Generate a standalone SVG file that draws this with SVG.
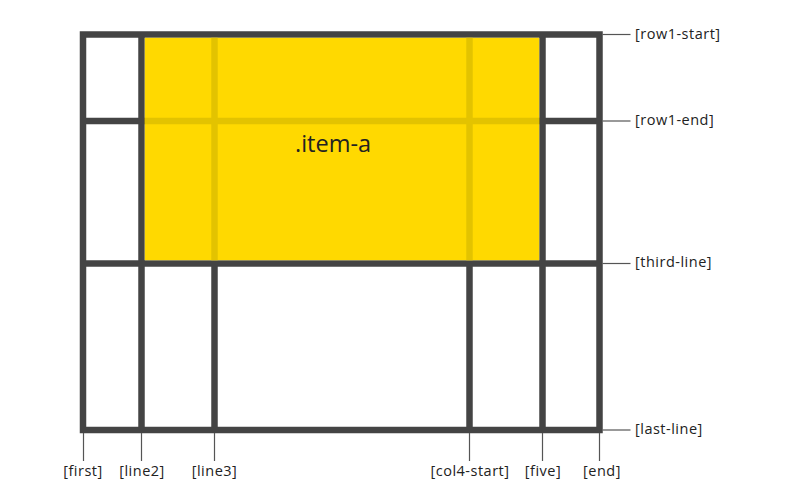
<svg xmlns="http://www.w3.org/2000/svg" width="793" height="498" viewBox="0 0 793 498">
<style>
.g{stroke:#444;stroke-width:6.5;fill:none}
.f{stroke:#E3C300;stroke-width:6.5}
.t{stroke:#555;stroke-width:1.2}
.lbl{font-family:"Open Sans","Noto Sans",sans-serif;font-size:14.5px;letter-spacing:0.5px;fill:#222}
.c{text-anchor:middle}
</style>
<rect width="793" height="498" fill="#fff"/>
<g id="grid">
<line class="g" x1="141.5" y1="34.5" x2="141.5" y2="430"/>
<line class="g" x1="214.5" y1="263.5" x2="214.5" y2="430"/>
<line class="g" x1="469.5" y1="263.5" x2="469.5" y2="430"/>
<line class="g" x1="542.5" y1="34.5" x2="542.5" y2="430"/>
<line class="g" x1="83" y1="121" x2="599.5" y2="121"/>
<line class="g" x1="83" y1="263.5" x2="599.5" y2="263.5"/>
<rect class="g" x="83" y="34.5" width="516.5" height="395.5"/>
</g>
<g id="item-a">
<rect x="144.8" y="37.8" width="394.4" height="222.4" fill="#FFD900"/>
<line class="f" x1="214.5" y1="37.8" x2="214.5" y2="260.2"/>
<line class="f" x1="469.5" y1="37.8" x2="469.5" y2="260.2"/>
<line class="f" x1="144.8" y1="121" x2="539.2" y2="121"/>
<text x="295" y="152" font-family="'Open Sans','Noto Sans',sans-serif" font-size="23.5" fill="#222">.item-a</text>
</g>
<g id="connectors">
<line class="t" x1="602.5" y1="34.5" x2="630.5" y2="34.5"/>
<line class="t" x1="602.5" y1="121" x2="630.5" y2="121"/>
<line class="t" x1="602.5" y1="263.5" x2="630.5" y2="263.5"/>
<line class="t" x1="602.5" y1="430" x2="630.5" y2="430"/>
<line class="t" x1="83.5" y1="433" x2="83.5" y2="461"/>
<line class="t" x1="141.5" y1="433" x2="141.5" y2="461"/>
<line class="t" x1="214.5" y1="433" x2="214.5" y2="461"/>
<line class="t" x1="469.5" y1="433" x2="469.5" y2="461"/>
<line class="t" x1="542.5" y1="433" x2="542.5" y2="461"/>
<line class="t" x1="599.5" y1="433" x2="599.5" y2="461"/>
</g>
<g id="labels">
<text class="lbl" x="635" y="38.5">[row1-start]</text>
<text class="lbl" x="635" y="124.5">[row1-end]</text>
<text class="lbl" x="635" y="267">[third-line]</text>
<text class="lbl" x="635" y="433.5">[last-line]</text>
<text class="lbl c" x="83" y="476">[first]</text>
<text class="lbl c" x="142" y="476">[line2]</text>
<text class="lbl c" x="214.5" y="476">[line3]</text>
<text class="lbl c" x="470" y="476">[col4-start]</text>
<text class="lbl c" x="543" y="476">[five]</text>
<text class="lbl c" x="602" y="476">[end]</text>
</g>
</svg>
